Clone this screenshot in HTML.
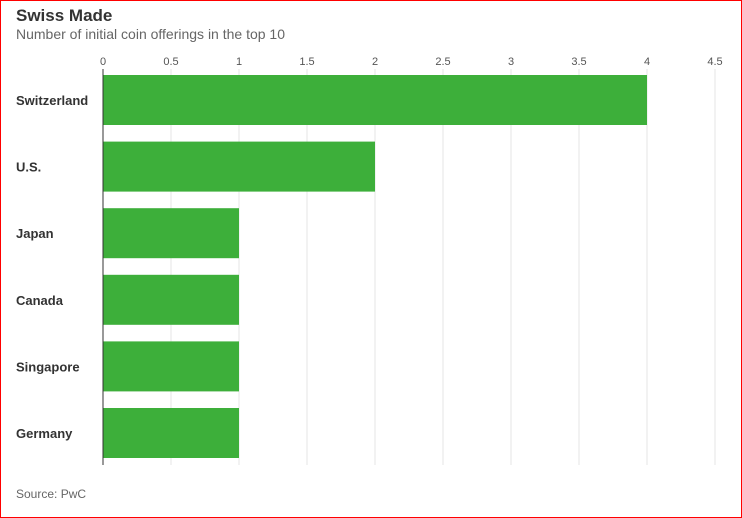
<!DOCTYPE html>
<html><head><meta charset="utf-8"><style>
body{margin:0;background:#fff;}
#wrap{position:relative;width:740px;height:516px;border:1px solid #f00;overflow:hidden;font-family:"Liberation Sans",sans-serif;}
</style></head><body>
<div id="wrap">
<svg id="chart" width="740" height="516">
<text x="15" y="20" font-size="17" font-weight="bold" fill="#333">Swiss Made</text>
<text x="15" y="38" font-size="14" fill="#666">Number of initial coin offerings in the top 10</text>
<text x="15" y="497" font-size="12" fill="#666">Source: PwC</text>
</svg>
</div>
<script>
const categories=["Switzerland","U.S.","Japan","Canada","Singapore","Germany"];
const values=[4,2,1,1,1,1];
const ticks=[0,0.5,1,1.5,2,2.5,3,3.5,4,4.5];
const tickLabels=["0","0.5","1","1.5","2","2.5","3","3.5","4","4.5"];
const svg=document.getElementById('chart');
const NS='http://www.w3.org/2000/svg';
const x0=102,unit=136,plotTop=68,plotBottom=464,pitch=66.6,barH=50,firstY=74;
const xs=v=>x0+v*unit;
const ys=i=>firstY+i*pitch;
function mk(t,a){const e=document.createElementNS(NS,t);for(const k in a)e.setAttribute(k,a[k]);svg.appendChild(e);return e;}
ticks.forEach((t,i)=>{
 const g=mk('line',{x1:xs(t),x2:xs(t),y1:plotTop,y2:plotBottom,stroke:'#e4e4e4','stroke-width':1});
 
 
 const l=mk('text',{x:xs(t),y:64,'font-size':11,fill:'#555','text-anchor':'middle'});
 l.textContent=tickLabels[i];
 
 
});
categories.forEach((c,i)=>{
 const r=mk('rect',{x:xs(0),y:ys(i),width:xs(values[i])-xs(0),height:barH,fill:'#3daf3a'});
 
 
 const t=mk('text',{x:15,y:ys(i)+barH/2+5,'font-size':13,'font-weight':'bold',fill:'#333'});
 t.textContent=c;
 
 
});
const ax=mk('line',{x1:xs(0),x2:xs(0),y1:plotTop,y2:plotBottom,stroke:'#333','stroke-width':1});


</script>
</body></html>
